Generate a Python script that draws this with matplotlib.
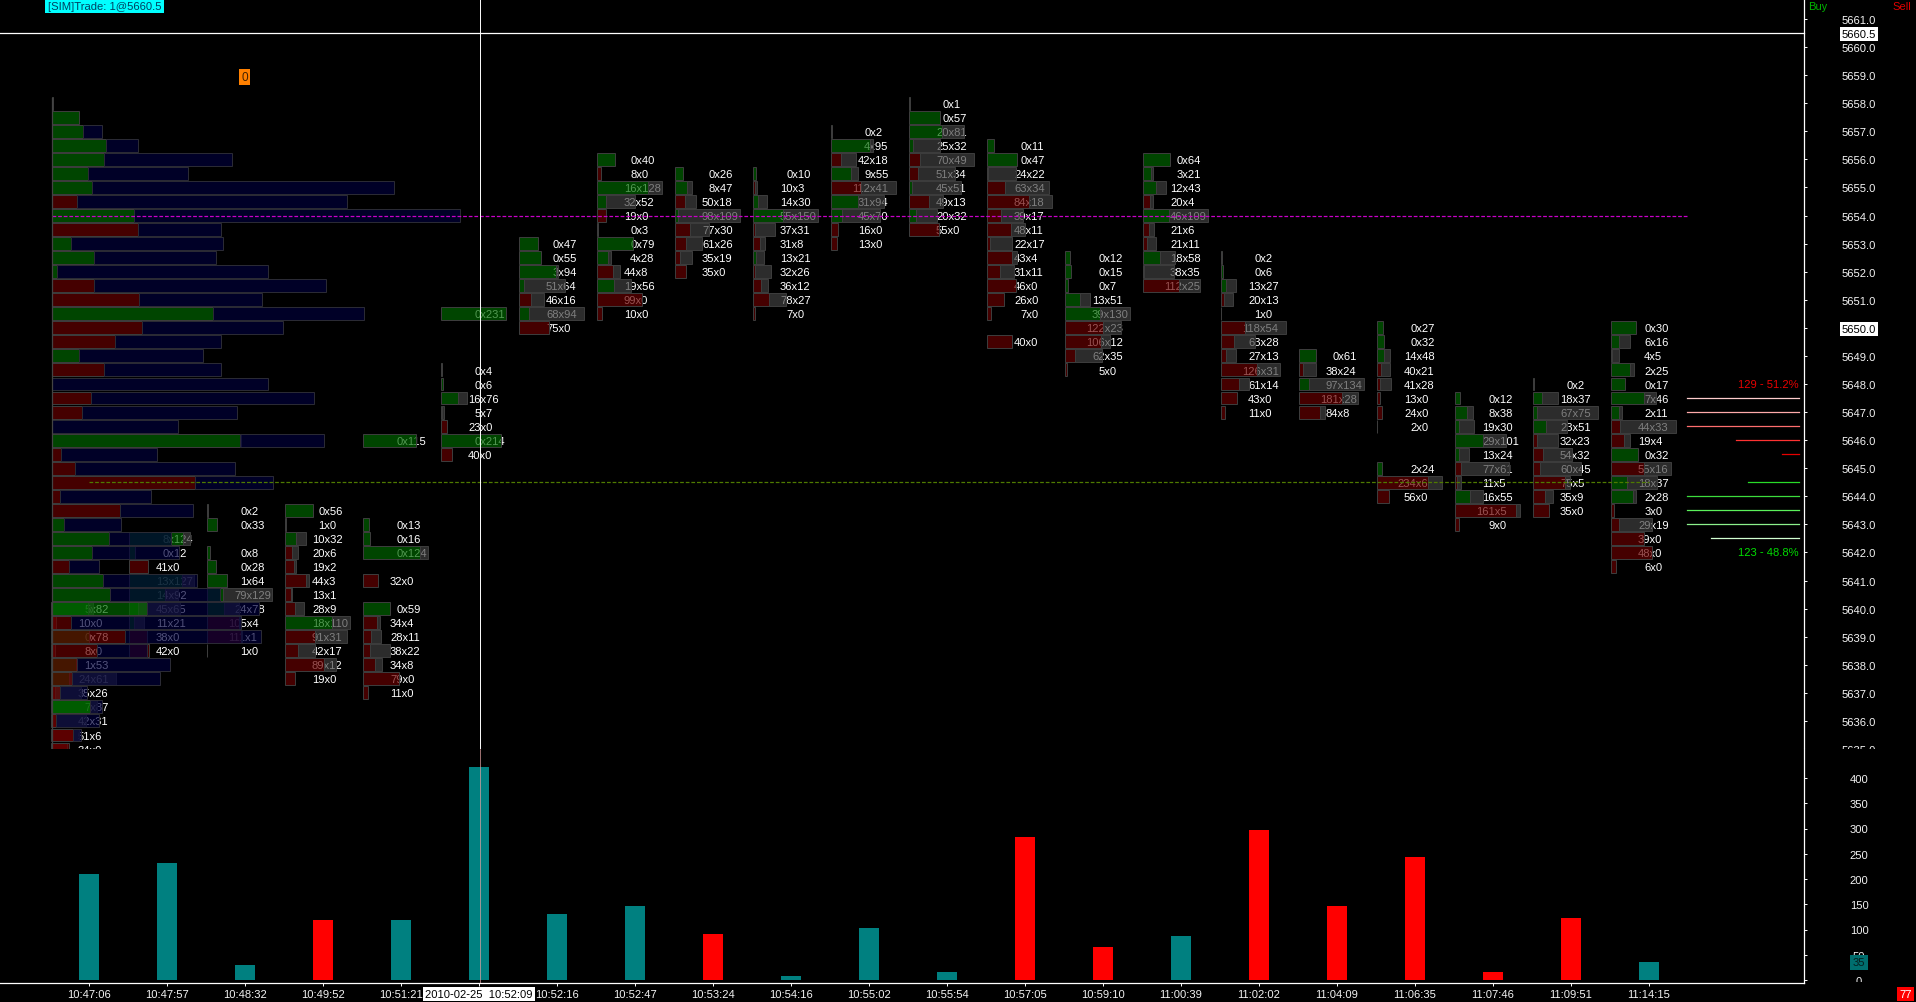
import matplotlib
matplotlib.use("Agg")
import matplotlib.pyplot as plt
from matplotlib.patches import Rectangle

plt.rcParams['font.family'] = ['Liberation Sans', 'DejaVu Sans']
plt.rcParams['text.hinting'] = 'native'

# =========================
# Data
# =========================
times = ["10:47:06", "10:47:57", "10:48:32", "10:49:52", "10:51:21", "2010-02-25  10:52:09",
         "10:52:16", "10:52:47", "10:53:24", "10:54:16", "10:55:02", "10:55:54", "10:57:05",
         "10:59:10", "11:00:39", "11:02:02", "11:04:09", "11:06:35", "11:07:46", "11:09:51",
         "11:14:15"]

volume = [210, 232, 30, 119, 119, 422, 130, 146, 91, 8, 103, 16, 283, 65, 87, 297, 147, 244, 16, 123, 35]
volume_up = [1, 1, 1, 0, 1, 1, 1, 1, 0, 1, 1, 1, 0, 0, 1, 0, 0, 0, 0, 0, 1]

# highest price of each footprint, rows go down by half a point, None is an empty row
foot_top = [5640, 5642.5, 5643.5, 5643.5, 5646, 5650.5, 5653, 5656, 5655.5, 5655.5, 5657,
            5658, 5656.5, 5652.5, 5656, 5652.5, 5649, 5650, 5647.5, 5648, 5650]
foot_rows = [
    ["5x82", "10x0", "0x78", "8x0", "1x53", "24x61", "35x26", "7x87", "42x31", "51x6", "34x0"],
    ["8x124", "0x12", "41x0", "13x127", "14x92", "45x65", "11x21", "38x0", "42x0"],
    ["0x2", "0x33", None, "0x8", "0x28", "1x64", "79x129", "24x78", "105x4", "111x1", "1x0"],
    ["0x56", "1x0", "10x32", "20x6", "19x2", "44x3", "13x1", "28x9", "18x110", "91x31", "42x17",
     "89x12", "19x0"],
    ["0x115", None, None, None, None, None, "0x13", "0x16", "0x124", None, "32x0", None, "0x59",
     "34x4", "28x11", "38x22", "34x8", "79x0", "11x0"],
    ["0x231", None, None, None, "0x4", "0x6", "16x76", "5x7", "23x0", "0x214", "40x0"],
    ["0x47", "0x55", "3x94", "51x64", "46x16", "68x94", "75x0"],
    ["0x40", "8x0", "16x128", "32x52", "19x0", "0x3", "0x79", "4x28", "44x8", "19x56", "99x0", "10x0"],
    ["0x26", "8x47", "50x18", "98x109", "77x30", "61x26", "35x19", "35x0"],
    ["0x10", "10x3", "14x30", "55x150", "37x31", "31x8", "13x21", "32x26", "36x12", "78x27", "7x0"],
    ["0x2", "4x95", "42x18", "9x55", "112x41", "31x94", "45x70", "16x0", "13x0"],
    ["0x1", "0x57", "20x81", "25x32", "70x49", "51x34", "45x51", "49x13", "20x32", "55x0"],
    ["0x11", "0x47", "24x22", "63x34", "84x18", "39x17", "48x11", "22x17", "43x4", "31x11", "46x0",
     "26x0", "7x0", None, "40x0"],
    ["0x12", "0x15", "0x7", "13x51", "39x130", "122x23", "106x12", "62x35", "5x0"],
    ["0x64", "3x21", "12x43", "20x4", "46x109", "21x6", "21x11", "18x58", "38x35", "112x25"],
    ["0x2", "0x6", "13x27", "20x13", "1x0", "118x54", "63x28", "27x13", "126x31", "61x14", "43x0", "11x0"],
    ["0x61", "38x24", "97x134", "181x28", "84x8"],
    ["0x27", "0x32", "14x48", "40x21", "41x28", "13x0", "24x0", "2x0", None, None, "2x24", "234x6", "56x0"],
    ["0x12", "8x38", "19x30", "29x101", "13x24", "77x61", "11x5", "16x55", "161x5", "9x0"],
    ["0x2", "18x37", "67x75", "23x51", "32x23", "54x32", "60x45", "75x5", "35x9", "35x0"],
    ["0x30", "6x16", "4x5", "2x25", "0x17", "7x46", "2x11", "44x33", "19x4", "0x32", "55x16", "18x37",
     "2x28", "3x0", "29x19", "39x0", "48x0", "6x0"],
]
# rows partly hidden under other marks: the drawn size does not follow the label
foot_full = {0: 134, 4: 142, 17: 312}
foot_fixed = {(0, "24x61"): (37, 134), (4, "0x124"): (124, 141), (17, "234x6"): (-245, 311)}

# volume profile, one row per half point going down from 5658, green > 0 > red
profile_top = 5658
profile_delta = [1, 27, 31, 54, 52, 36, 40, -25, 82, -86, 19, 42, 5, -42, -87, 162, -90, -63, 27, -52,
                 0, -39, -30, 0, 189, -9, -23, -143, -8, -68, 12, 57, 40, -17, 51, 58, 95, -19, -73,
                 -45, -25, -20, -8, 38, -4, -21, -17]
profile_total = [1, 27, 50, 86, 180, 136, 342, 295, 408, 169, 171, 164, 216, 274, 210, 312, 231, 169,
                 151, 169, 216, 262, 185, 126, 272, 105, 183, 221, 99, 141, 69, 119, 127, 47, 145, 168,
                 207, 190, 209, 95, 118, 108, 35, 50, 47, 29, 17]

# buy / sell ladder on the right
ladder_sell_prices = [5647.5, 5647, 5646.5, 5646, 5645.5]
ladder_sell = [112, 112, 112, 63, 17]
ladder_buy_prices = [5644.5, 5644, 5643.5, 5643, 5642.5]
ladder_buy = [51, 112, 112, 112, 88]

price_ticks = [5661 - k for k in range(27)] + [5660.5]
volume_ticks = list(range(0, 401, 50))

# =========================
# Layout, everything is laid out in pixels of the 1916x1003 picture
# =========================
W, H = 1916, 1003
PX = 1 / 78          # one pixel in bar units
x0 = 89              # pixel of bar 0
to_bar = lambda x: (x - x0) * PX
AXIS_X = to_bar(1804)
FS = 11.3 * 0.72     # about 11 px text
WHITE = "#f2f2f2"
GRID = "#3c3c3c"

A = 0.68
GREEN = (0, 70 / 255 / A, 0, A)
RED = (70 / 255 / A, 0, 0, A)
GREY = (45 / 255 / A, 45 / 255 / A, 45 / 255 / A, A)
NAVY = (0, 0, 40 / 255 / A, A)
TEAL = "#008080"

fig = plt.figure(figsize=(W / 100, H / 100), dpi=100, facecolor="black")
ax = fig.add_axes([0, (H - 750) / H, 1, 750 / H], facecolor="black")
vol = fig.add_axes([0, (H - 984) / H, 1, 234 / H], facecolor="black")
ax.set_zorder(1)
vol.set_zorder(2)

ax.set_xlim(to_bar(0), to_bar(W))
vol.set_xlim(to_bar(0), to_bar(W))
ax.set_ylim(5661 - (750 - 20) / 28.1, 5661 + 20 / 28.1)
vol.set_ylim(-3 / 0.505, 231 / 0.505)

# =========================
# Footprints
# =========================
ROW_H = 0.46
for i, (top, rows) in enumerate(zip(foot_top, foot_rows)):
    parsed = [r for r in rows if r]
    full = foot_full.get(i, max(sum(map(int, r.split("x"))) for r in parsed))
    unit = 65 * PX / full
    left = i - 38 * PX
    for k, row in enumerate(rows):
        if row is None:
            continue
        price = top - 0.5 * k
        bid, ask = map(int, row.split("x"))
        delta, total = foot_fixed.get((i, row), (ask - bid, ask + bid))
        colour = GREEN if delta > 0 else RED
        ax.barh(price, abs(delta) * unit, ROW_H, left=left, color=colour,
                edgecolor=GRID, linewidth=0.72, zorder=3)
        if total > abs(delta):
            ax.barh(price, (total - abs(delta)) * unit, ROW_H, left=left + abs(delta) * unit,
                    color=GREY, edgecolor=GRID, linewidth=0.72, zorder=3)
        # the x of every label sits in one column
        shift = 1.2 - 6.12 * len(str(bid))
        ax.annotate(row, (i, price), xytext=(shift * 0.72, -0.4), textcoords="offset points",
                    color="white", fontsize=FS, ha="left", va="center", zorder=2,
                    annotation_clip=False)

# =========================
# Volume profile
# =========================
p_left = to_bar(51.5)
for k, (d, t) in enumerate(zip(profile_delta, profile_total)):
    price = profile_top - 0.5 * k
    if d != 0:
        ax.barh(price, abs(d) * PX, ROW_H, left=p_left, color=GREEN if d > 0 else RED,
                edgecolor=GRID, linewidth=0.72, zorder=4)
    if t > abs(d):
        ax.barh(price, (t - abs(d)) * PX, ROW_H, left=p_left + abs(d) * PX, color=NAVY,
                edgecolor="#2a2a34", linewidth=0.72, zorder=4)

# =========================
# Lines
# =========================
ax.plot([to_bar(51.5), to_bar(1688)], [5654, 5654], color="#c800c8", lw=0.9,
        dashes=(3, 1.5), zorder=5)
ax.plot([0, 20], [5644.5, 5644.5], color="#4f7a00", lw=0.9, dashes=(3, 1.5), zorder=5)
ax.plot([to_bar(51.5), to_bar(51.5)], [5635, 5658.2], color="#444444", lw=0.9, zorder=5)

sell_cols = ["#ffcdcd", "#ffaaaa", "#ff6e6e", "#ff3232", "#e60000"]
buy_cols = ["#28dc28", "#3cdc3c", "#5af05a", "#8cf08c", "#d2ffd2"]
right_end = to_bar(1799)
for price, n, c in zip(ladder_sell_prices, ladder_sell, sell_cols):
    ax.plot([right_end - n * PX, right_end], [price, price], color=c, lw=0.9)
for price, n, c in zip(ladder_buy_prices, ladder_buy, buy_cols):
    ax.plot([right_end - n * PX, right_end], [price, price], color=c, lw=0.9)
ax.text(right_end, 5648, "129 - 51.2%", color="#e60000", fontsize=FS, ha="right", va="center")
ax.text(right_end, 5642, "123 - 48.8%", color="#00dc00", fontsize=FS, ha="right", va="center")

# crosshair
ax.plot([to_bar(0), AXIS_X], [5660.5, 5660.5], color="white", lw=0.9, zorder=6)
ax.axvline(to_bar(480), color="white", lw=0.7, zorder=6)
vol.axvline(to_bar(480), color="#e0a0a0", lw=0.5, zorder=6)

# =========================
# Volume bars
# =========================
vol.bar(range(len(volume)), volume, 20 * PX,
        color=[TEAL if u else "#ff0000" for u in volume_up], zorder=3)
vol.text(to_bar(1859), 35, "35", color="#062020", fontsize=FS, ha="center", va="center", zorder=8,
         bbox=dict(facecolor="#006e6e", edgecolor="none", pad=1.6))

# =========================
# Axes
# =========================
for a in (ax, vol):
    for side in ("top", "left"):
        a.spines[side].set_visible(False)
    a.spines["right"].set_position(("data", AXIS_X))
    a.spines["right"].set_color("white")
    a.spines["right"].set_linewidth(0.9)
    a.yaxis.tick_right()
    a.tick_params(axis="y", colors="white", labelcolor=WHITE, length=2.2, width=0.7,
                  labelsize=FS, pad=37.5)
ax.spines["bottom"].set_visible(False)
ax.set_xticks([])
ax.set_yticks(price_ticks)
ax.set_yticklabels([f"{p:.1f}" for p in price_ticks])
vol.set_yticks(volume_ticks)
vol.set_yticklabels([str(v) for v in volume_ticks])
for a in (ax, vol):
    for lab in a.get_yticklabels():
        lab.set_ha("center")
for tick, p in zip(ax.yaxis.get_major_ticks(), price_ticks):
    if p in (5660.5, 5650):
        tick.label2.set_color("black")
        tick.label2.set_bbox(dict(facecolor="white", edgecolor="none", pad=1.2))
        tick.label2.set_zorder(5)
    if p == 5660.5:
        tick.tick2line.set_visible(False)

vol.spines["bottom"].set_bounds(to_bar(0), AXIS_X)
vol.spines["bottom"].set_color("white")
vol.spines["bottom"].set_linewidth(0.9)
vol.set_xticks(range(len(times)))
vol.set_xticklabels(times)
vol.tick_params(axis="x", colors="white", labelcolor=WHITE, length=2.2, width=0.7,
                labelsize=FS, pad=2)
date_label = vol.get_xticklabels()[5]
date_label.set_color("black")
date_label.set_bbox(dict(facecolor="white", edgecolor="none", pad=1.6))
date_label.set_zorder(5)

# =========================
# Boxes round the chart
# =========================
fig.add_artist(Rectangle((1830 / W, 0), 60 / W, (H - 983) / H, transform=fig.transFigure,
                         facecolor="black", edgecolor="none", zorder=2.9))


def box_text(x, y, s, fg, bg, size=FS):
    fig.text(x / W, 1 - y / H, s, color=fg, fontsize=size, ha="center", va="center", zorder=4,
             bbox=dict(facecolor=bg, edgecolor="none", pad=1.6) if bg else None)


box_text(104.5, 6.5, "[SIM]Trade: 1@5660.5", "#004060", "#00ffff")
box_text(244.5, 78, "0", "#402000", "#ff8000", 12 * 0.72)
box_text(1818, 7, "Buy", "#00b000", None)
box_text(1902, 7, "Sell", "#e00000", None)
box_text(1905.5, 995, "77", "white", "#ff0000")

fig.savefig("out.png", dpi=100, facecolor="black")
